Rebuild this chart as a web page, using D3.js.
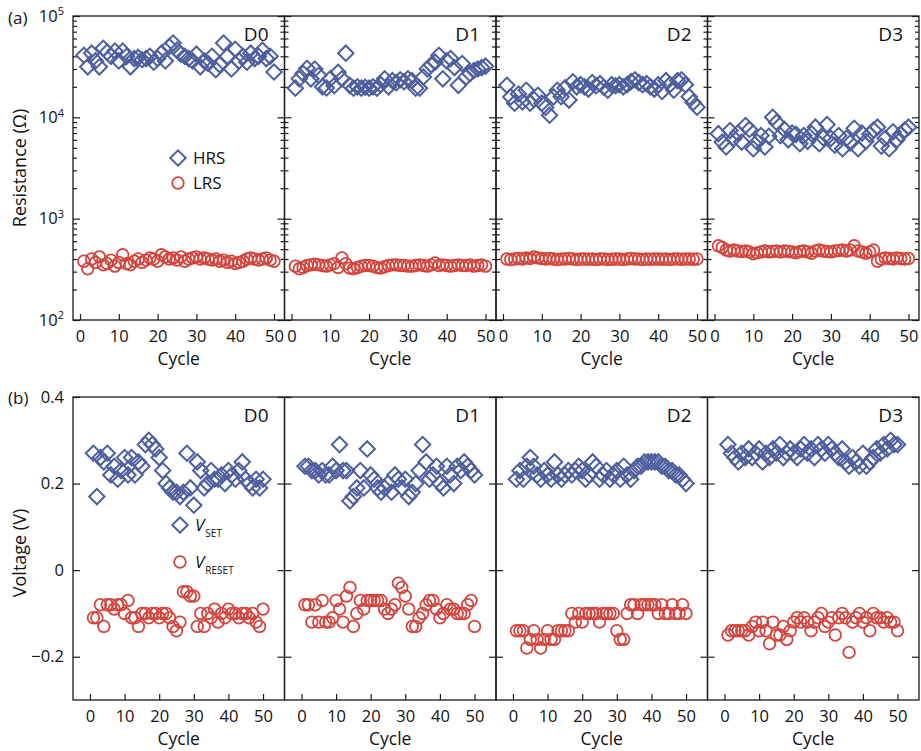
<!DOCTYPE html>
<html>
<head>
<meta charset="utf-8">
<script src="https://cdn.jsdelivr.net/npm/d3@7"></script>
<style>
body { margin: 0; background: #fff; }
svg text { font-family: "Open Sans", "DejaVu Sans", sans-serif; fill: #111; }
</style>
</head>
<body>
<div id="chart"></div>
<script>
// ---- data ----
var devices = ["D0", "D1", "D2", "D3"];
var cycles = [1, 2, 3, 4, 5, 6, 7, 8, 9, 10, 11, 12, 13, 14, 15, 16, 17, 18, 19, 20,
    21, 22, 23, 24, 25, 26, 27, 28, 29, 30, 31, 32, 33, 34, 35, 36, 37, 38, 39, 40,
    41, 42, 43, 44, 45, 46, 47, 48, 49, 50];

var hrsD0 = [41000, 31500, 43000, 36000, 31500, 48000, 44000, 40000, 45000, 36000,
    45000, 40000, 31500, 38000, 39000, 37000, 38000, 40000, 35000, 38000,
    43000, 36000, 50000, 54000, 46000, 42000, 40000, 38000, 36000, 42000,
    31500, 36000, 34000, 40000, 29500, 33000, 54000, 40000, 30000, 47000,
    36000, 40000, 35000, 43000, 38000, 40000, 46000, 38000, 40000, 28000];
var hrsD1 = [19400, 24000, 27000, 30500, 24000, 30000, 26000, 20000, 19500, 24000,
    20500, 27800, 24000, 43000, 20700, 19400, 20000, 19400, 19800, 19400,
    20000, 19400, 21000, 24000, 20000, 23000, 22000, 23500, 22500, 24000,
    23000, 19400, 19400, 25000, 30000, 33000, 35000, 41000, 24000, 36000,
    38000, 31000, 20700, 34000, 25000, 27000, 29000, 30000, 31000, 32000];
var hrsD2 = [20700, 15900, 13800, 17000, 14200, 18500, 13800, 15000, 16500, 13800,
    12500, 10500, 15900, 18500, 16000, 19500, 14800, 22400, 20000, 21000,
    20000, 19000, 22000, 20500, 21500, 19800, 18500, 21000, 20500, 21000,
    20000, 21000, 22500, 23500, 22000, 21000, 21500, 20000, 19000, 21000,
    18000, 23000, 21000, 18500, 23000, 23500, 21000, 16000, 14000, 12600];
var hrsD3 = [6900, 5700, 5100, 7400, 6200, 7000, 5700, 8300, 7600, 4900,
    5700, 6600, 5100, 6500, 10000, 8900, 6600, 7600, 6000, 7000,
    6800, 5500, 6600, 5800, 6900, 8000, 5500, 6300, 8500, 6200,
    5300, 6600, 4900, 6200, 5600, 7800, 4900, 7000, 5800, 6800,
    7500, 8000, 5200, 6200, 4900, 7200, 6000, 6800, 7500, 8000];

var lrsD0 = [380, 320, 400, 370, 420, 350, 360, 390, 340, 370,
    440, 360, 350, 380, 400, 370, 390, 410, 400, 380,
    440, 420, 400, 410, 390, 420, 380, 400, 410, 420,
    400, 410, 400, 390, 400, 380, 390, 370, 380, 360,
    370, 380, 400, 410, 400, 390, 400, 410, 390, 380];
var lrsD1 = [340, 320, 330, 345, 350, 355, 350, 345, 340, 350,
    360, 330, 410, 360, 325, 320, 330, 340, 345, 345,
    340, 330, 325, 335, 345, 350, 350, 345, 345, 340,
    340, 345, 350, 345, 340, 350, 365, 345, 350, 345,
    340, 345, 350, 345, 345, 350, 340, 345, 350, 340];
var lrsD2 = [400, 395, 400, 405, 400, 410, 405, 420, 410, 405,
    400, 405, 400, 395, 400, 400, 405, 400, 395, 400,
    400, 398, 400, 395, 400, 400, 395, 398, 400, 400,
    395, 400, 405, 400, 400, 395, 400, 398, 400, 400,
    398, 400, 395, 400, 400, 398, 400, 400, 398, 400];
var lrsD3 = [540, 520, 490, 480, 490, 480, 475, 480, 470, 450,
    460, 470, 480, 470, 475, 480, 470, 480, 475, 470,
    460, 475, 480, 470, 455, 480, 490, 480, 475, 470,
    480, 485, 490, 480, 490, 540, 480, 470, 455, 470,
    490, 380, 400, 410, 405, 400, 410, 405, 400, 405];

var vsetD0 = [0.27, 0.17, 0.26, 0.25, 0.27, 0.22, 0.24, 0.21, 0.23, 0.26,
    0.22, 0.26, 0.22, 0.25, 0.24, 0.29, 0.30, 0.29, 0.28, 0.26,
    0.23, 0.20, 0.19, 0.18, 0.18, 0.17, 0.18, 0.27, 0.19, 0.15,
    0.25, 0.23, 0.19, 0.20, 0.23, 0.21, 0.21, 0.22, 0.20, 0.23,
    0.22, 0.21, 0.23, 0.25, 0.21, 0.20, 0.19, 0.21, 0.19, 0.21];
var vsetD1 = [0.24, 0.24, 0.23, 0.23, 0.22, 0.23, 0.22, 0.22, 0.24, 0.23,
    0.29, 0.23, 0.23, 0.16, 0.17, 0.19, 0.23, 0.19, 0.28, 0.22,
    0.21, 0.19, 0.18, 0.19, 0.20, 0.18, 0.22, 0.21, 0.19, 0.21,
    0.17, 0.18, 0.20, 0.23, 0.29, 0.25, 0.21, 0.22, 0.24, 0.20,
    0.19, 0.24, 0.22, 0.20, 0.24, 0.23, 0.25, 0.24, 0.23, 0.22];
var vsetD2 = [0.21, 0.23, 0.21, 0.24, 0.26, 0.24, 0.22, 0.21, 0.23, 0.22,
    0.21, 0.25, 0.22, 0.21, 0.22, 0.23, 0.22, 0.23, 0.24, 0.23,
    0.21, 0.22, 0.25, 0.24, 0.21, 0.22, 0.23, 0.21, 0.22, 0.23,
    0.21, 0.24, 0.22, 0.21, 0.23, 0.24, 0.24, 0.25, 0.25, 0.25,
    0.25, 0.25, 0.24, 0.24, 0.23, 0.23, 0.22, 0.22, 0.21, 0.20];
var vsetD3 = [0.29, 0.27, 0.26, 0.25, 0.27, 0.26, 0.28, 0.26, 0.27, 0.28,
    0.25, 0.27, 0.26, 0.28, 0.27, 0.29, 0.26, 0.27, 0.28, 0.27,
    0.26, 0.28, 0.29, 0.27, 0.28, 0.26, 0.29, 0.28, 0.27, 0.29,
    0.28, 0.27, 0.26, 0.28, 0.25, 0.24, 0.26, 0.25, 0.24, 0.27,
    0.24, 0.25, 0.26, 0.28, 0.27, 0.29, 0.28, 0.30, 0.29, 0.29];

var vresetD0 = [-0.11, -0.11, -0.08, -0.13, -0.08, -0.08, -0.09, -0.08, -0.08, -0.10,
    -0.07, -0.11, -0.11, -0.13, -0.10, -0.10, -0.11, -0.10, -0.10, -0.11,
    -0.10, -0.10, -0.11, -0.13, -0.14, -0.12, -0.05, -0.05, -0.06, -0.06,
    -0.13, -0.10, -0.13, -0.10, -0.11, -0.09, -0.12, -0.10, -0.11, -0.09,
    -0.10, -0.10, -0.11, -0.10, -0.10, -0.11, -0.10, -0.12, -0.13, -0.09];
var vresetD1 = [-0.08, -0.08, -0.12, -0.08, -0.12, -0.07, -0.12, -0.12, -0.11, -0.07,
    -0.09, -0.12, -0.06, -0.04, -0.13, -0.10, -0.07, -0.09, -0.07, -0.07,
    -0.07, -0.07, -0.07, -0.09, -0.10, -0.09, -0.08, -0.03, -0.04, -0.06,
    -0.09, -0.13, -0.13, -0.11, -0.10, -0.08, -0.07, -0.07, -0.09, -0.11,
    -0.10, -0.08, -0.09, -0.09, -0.10, -0.10, -0.10, -0.08, -0.07, -0.13];
var vresetD2 = [-0.14, -0.14, -0.14, -0.18, -0.16, -0.14, -0.16, -0.18, -0.16, -0.14,
    -0.16, -0.16, -0.14, -0.14, -0.14, -0.14, -0.10, -0.12, -0.10, -0.12,
    -0.10, -0.10, -0.10, -0.10, -0.12, -0.10, -0.10, -0.10, -0.10, -0.14,
    -0.16, -0.16, -0.10, -0.08, -0.08, -0.10, -0.08, -0.08, -0.08, -0.08,
    -0.08, -0.10, -0.08, -0.10, -0.10, -0.08, -0.10, -0.10, -0.08, -0.10];
var vresetD3 = [-0.15, -0.14, -0.14, -0.14, -0.14, -0.14, -0.15, -0.13, -0.12, -0.14,
    -0.12, -0.14, -0.17, -0.12, -0.15, -0.15, -0.13, -0.16, -0.14, -0.12,
    -0.11, -0.12, -0.11, -0.12, -0.14, -0.12, -0.11, -0.10, -0.13, -0.12,
    -0.11, -0.15, -0.11, -0.10, -0.11, -0.19, -0.12, -0.11, -0.10, -0.12,
    -0.11, -0.14, -0.10, -0.11, -0.11, -0.12, -0.11, -0.12, -0.12, -0.14];

var hrsData = [hrsD0, hrsD1, hrsD2, hrsD3];
var lrsData = [lrsD0, lrsD1, lrsD2, lrsD3];
var vsetData = [vsetD0, vsetD1, vsetD2, vsetD3];
var vresetData = [vresetD0, vresetD1, vresetD2, vresetD3];

var resTicks = [1e2, 1e3, 1e4, 1e5];
var voltTicks = [-0.2, 0, 0.2, 0.4];
var cycleTicks = [0, 10, 20, 30, 40, 50];

// ---- layout ----
var blue = "#4d5f9f", red = "#d4443c", ink = "#1a1a1a";
var svg = d3.select("#chart").append("svg").attr("width", 921).attr("height", 751);

var left = 73, panelW = 211.5;
var rowA = {top: 16, h: 304};
var rowB = {top: 397, h: 303};

var xA = d3.scaleLinear().domain([-1.8, 52.7]).range([0, panelW]);
var xB = d3.scaleLinear().domain([-4.9, 56.2]).range([0, panelW]);
var yRes = d3.scaleLog().domain([1e2, 1e5]).range([rowA.h, 0]);
var yVolt = d3.scaleLinear().domain([-0.3, 0.4]).range([rowB.h, 0]);

var minorRes = yRes.ticks().filter(function(d) { return resTicks.indexOf(d) < 0; });
var fmtVolt = function(d) { return d === 0 ? "0" : d3.format(".1f")(d); };

var diamond = d3.symbol().type(d3.symbolSquare).size(118);

function styleAxis(g) {
    g.select(".domain").remove();
    g.selectAll("line").attr("stroke", ink).attr("stroke-width", 1.2);
    g.selectAll("text").style("font-size", "16.5px").attr("fill", ink);
}

function drawRow(row, x, y, majors, minors, upper, lower, fmt) {
    devices.forEach(function(dev, i) {
        var g = svg.append("g")
            .attr("transform", "translate(" + (left + i * panelW) + "," + row.top + ")");

        g.append("g").attr("transform", "translate(0," + row.h + ")")
            .call(d3.axisBottom(x).tickValues(cycleTicks).tickSize(-6).tickSizeOuter(0).tickPadding(10))
            .call(styleAxis);

        var yl = g.append("g")
            .call(d3.axisLeft(y).tickValues(majors).tickSize(-7).tickSizeOuter(0).tickPadding(9)
                .tickFormat(i === 0 ? fmt : ""))
            .call(styleAxis);
        g.append("g").attr("transform", "translate(" + panelW + ",0)")
            .call(d3.axisRight(y).tickValues(majors).tickSize(-7).tickSizeOuter(0).tickFormat(""))
            .call(styleAxis);
        if (minors) {
            g.append("g").call(d3.axisLeft(y).tickValues(minors).tickSize(-4).tickFormat(""))
                .call(styleAxis);
            g.append("g").attr("transform", "translate(" + panelW + ",0)")
                .call(d3.axisRight(y).tickValues(minors).tickSize(-4).tickFormat(""))
                .call(styleAxis);
        }
        if (i === 0 && minors) {
            // 10^n labels
            yl.selectAll(".tick text").each(function(d) {
                var t = d3.select(this).text("10");
                t.append("tspan").attr("dy", "-0.6em").style("font-size", "11px")
                    .text(Math.round(Math.log10(d)));
            });
        }

        g.selectAll(".hi").data(upper[i]).enter().append("path")
            .attr("class", "hi")
            .attr("d", diamond)
            .attr("transform", function(d, k) {
                return "translate(" + x(cycles[k]) + "," + y(d) + ") rotate(45)";
            })
            .attr("fill", "none").attr("stroke", blue).attr("stroke-width", 2);

        g.selectAll(".lo").data(lower[i]).enter().append("circle")
            .attr("class", "lo")
            .attr("cx", function(d, k) { return x(cycles[k]); })
            .attr("cy", function(d) { return y(d); })
            .attr("r", 5.8)
            .attr("fill", "none").attr("stroke", red).attr("stroke-width", 1.8);

        g.append("rect").attr("width", panelW).attr("height", row.h)
            .attr("fill", "none").attr("stroke", ink).attr("stroke-width", 1.3);

        g.append("text").attr("x", panelW - 16).attr("y", 25)
            .attr("text-anchor", "end").style("font-size", "19px").text(dev);

        g.append("text").attr("x", panelW / 2).attr("y", row.h + 45)
            .attr("text-anchor", "middle").style("font-size", "17.5px").text("Cycle");
    });
}

drawRow(rowA, xA, yRes, resTicks, minorRes, hrsData, lrsData, function(d) { return d; });
drawRow(rowB, xB, yVolt, voltTicks, null, vsetData, vresetData, fmtVolt);

// panel tags and y titles
svg.append("text").attr("x", 8).attr("y", 24).style("font-size", "17px").text("(a)");
svg.append("text").attr("x", 8).attr("y", 404).style("font-size", "17px").text("(b)");

svg.append("text").attr("transform", "translate(26,168) rotate(-90)")
    .attr("text-anchor", "middle").style("font-size", "18px").text("Resistance (\u03a9)");
svg.append("text").attr("transform", "translate(26,553) rotate(-90)")
    .attr("text-anchor", "middle").style("font-size", "18px").text("Voltage (V)");

// legends
function legend(cx, cy, kind, label, sub) {
    if (kind === "d") {
        svg.append("path").attr("d", diamond)
            .attr("transform", "translate(" + cx + "," + cy + ") rotate(45)")
            .attr("fill", "none").attr("stroke", blue).attr("stroke-width", 2);
    } else {
        svg.append("circle").attr("cx", cx).attr("cy", cy).attr("r", 5.8)
            .attr("fill", "none").attr("stroke", red).attr("stroke-width", 1.8);
    }
    var t = svg.append("text").attr("x", cx + 15).attr("y", cy + 6).style("font-size", "17px");
    if (sub) {
        t.append("tspan").style("font-style", "italic").text(label);
        t.append("tspan").attr("dy", "0.55em").attr("dx", "1").style("font-size", "10px").text(sub);
    } else {
        t.text(label);
    }
}
legend(178, 158, "d", "HRS");
legend(178, 183, "c", "LRS");
legend(180, 525, "d", "V", "SET");
legend(180, 562, "c", "V", "RESET");
</script>
</body>
</html>
